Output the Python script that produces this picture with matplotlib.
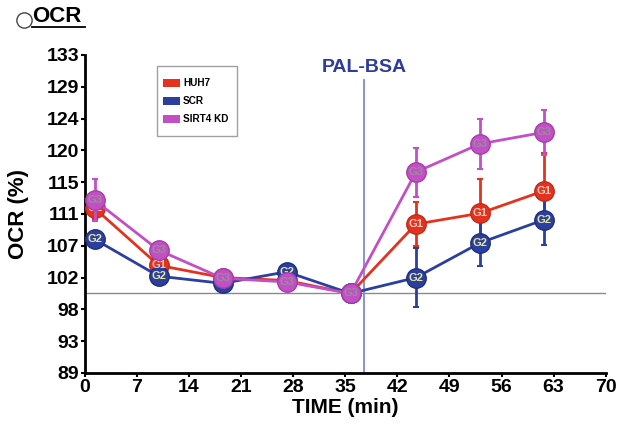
import numpy as np
import matplotlib
matplotlib.use("Agg")
import matplotlib.pyplot as plt
from matplotlib.patches import Rectangle
from matplotlib.lines import Line2D

plt.rcParams['font.family'] = ['Liberation Sans', 'DejaVu Sans']

# ==========================================================
# Data
# ==========================================================

time_min = [1.3, 9.9, 18.5, 27.1, 35.7, 44.5, 53.1, 61.7]

huh7 = [111.8, 103.9, 102.2, 101.8, 100.0, 109.6, 111.1, 114.2]
huh7_err = [1.5, 0.5, 0.5, 0.4, 0.0, 3.0, 4.7, 5.2]

scr = [107.5, 102.4, 101.4, 103.0, 100.0, 102.2, 107.0, 110.2]
scr_err = [0.5, 0.4, 0.4, 0.4, 0.0, 4.1, 3.2, 3.5]

sirt4 = [112.9, 106.0, 102.1, 101.6, 100.0, 116.8, 120.7, 122.3]
sirt4_err = [2.9, 0.5, 0.4, 0.4, 0.0, 3.4, 3.5, 3.1]

series_names = ["HUH7", "SCR", "SIRT4 KD"]
group_tags = ["G1", "G2", "G3"]

y_ticks = np.linspace(89, 133, 11)
y_tick_labels = ["89", "93", "98", "102", "107", "111", "115", "120", "124", "129", "133"]
x_ticks = [0, 7, 14, 21, 28, 35, 42, 49, 56, 63, 70]

pal_bsa_time = 37.5
baseline = 100

# ==========================================================
# Figure
# ==========================================================

W, H = 618, 430
fig = plt.figure(figsize=(W / 100, H / 100), dpi=100)
ax = fig.add_axes([0.1375, 0.1326, 0.8425, 0.7395])

ax.axhline(baseline, color="#8a8a8a", lw=1, zorder=1)
ax.plot([pal_bsa_time, pal_bsa_time], [89, 129.5], color="#8088d0", lw=1.3, zorder=1)
ax.text(pal_bsa_time, 131.25, "PAL-BSA", color="#2d3c9e", fontsize=14,
        fontweight="bold", ha="center", va="center")

colors = ["#e5321f", "#2b3f9e", "#c24fc6"]
edge_colors = ["#c42a18", "#1f2f80", "#a43fa8"]
tag_colors = ["#f0c8b8", "#e6e6a0", "#9a8c9a"]

data = [(scr, scr_err, 1), (huh7, huh7_err, 0), (sirt4, sirt4_err, 2)]

for vals, errs, i in data:
    ax.errorbar(time_min, vals, yerr=errs, color=colors[i], lw=2,
                elinewidth=2, capsize=2, capthick=1.5, zorder=2 + i)
    ax.plot(time_min, vals, "o", ms=14, color=colors[i],
            mec=edge_colors[i], mew=1, zorder=3 + i)
    for t, v in zip(time_min, vals):
        ax.text(t, v, group_tags[i], color=tag_colors[i], fontsize=8,
                fontweight="bold", ha="center", va="center", zorder=4 + i)

ax.set_xlim(0, 70)
ax.set_ylim(89, 133)
ax.set_xticks(x_ticks)
ax.set_yticks(y_ticks)
ax.set_yticklabels(y_tick_labels)
ax.tick_params(axis="both", labelsize=14, width=1.5, length=3, pad=1)
for lab in ax.get_xticklabels() + ax.get_yticklabels():
    lab.set_fontweight("bold")

ax.spines["top"].set_visible(False)
ax.spines["right"].set_visible(False)
ax.spines["left"].set_linewidth(2)
ax.spines["bottom"].set_linewidth(2)

ax.set_xlabel("TIME (min)", fontsize=15, fontweight="bold", labelpad=2)
ax.set_ylabel("OCR (%)", fontsize=16, fontweight="bold")
ax.yaxis.set_label_coords(-0.108, 0.5)

# ==========================================================
# Legend (drawn as a box in figure pixels)
# ==========================================================

def fx(px):
    return px / W

def fy(py):
    return 1 - py / H

fig.add_artist(Rectangle((fx(157), fy(136)), fx(80), 70 / H, facecolor="white",
                         edgecolor="#a0a0a0", lw=1, transform=fig.transFigure, zorder=10))
for k, name in enumerate(series_names):
    yc = 83 + k * 18.2
    fig.add_artist(Rectangle((fx(163), fy(yc + 4)), fx(17), 8 / H, facecolor=colors[k],
                             edgecolor="none", transform=fig.transFigure, zorder=11))
    fig.text(fx(183), fy(yc), name, fontsize=7.2, fontweight="bold",
             ha="left", va="center", zorder=12)

# ==========================================================
# Panel title
# ==========================================================

fig.add_artist(Line2D([fx(24)], [fy(20)], marker="o", ms=11, mfc="none",
                      mec="#444444", mew=1, transform=fig.transFigure))
fig.text(fx(32), fy(16), "OCR", fontsize=16, fontweight="bold", ha="left", va="center")
fig.add_artist(Line2D([fx(32), fx(85)], [fy(27), fy(27)], color="black", lw=1.3,
                      transform=fig.transFigure))

fig.savefig("out.png", dpi=100)
